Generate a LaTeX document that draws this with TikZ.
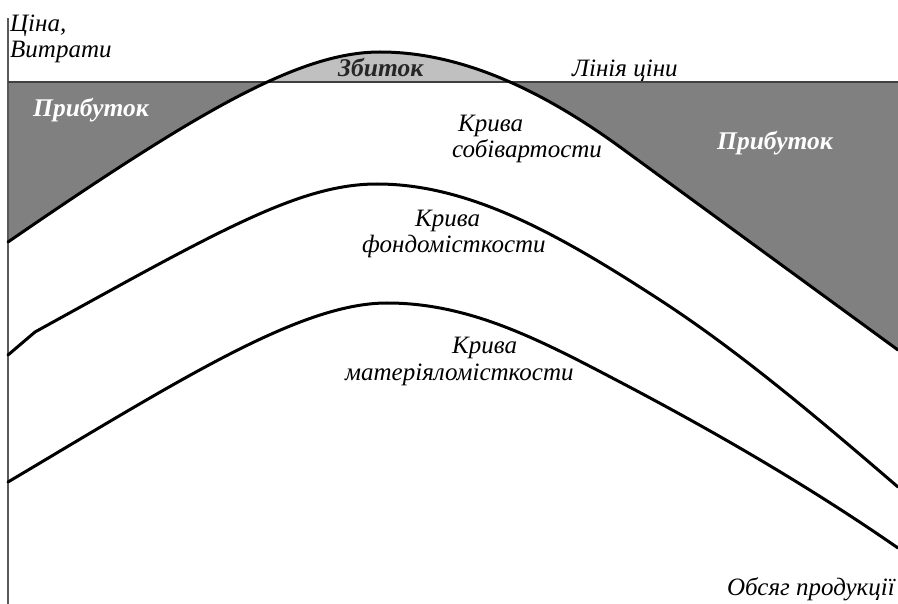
\documentclass[tikz,border=0pt]{standalone}
\usepackage{fontspec}
\setmainfont{Liberation Serif}
\begin{document}
\begin{tikzpicture}[x=1pt,y=-1pt,
  lbl/.style={font=\fontsize{25}{28}\selectfont\itshape, inner sep=0pt, anchor=base west, text=black},
  blbl/.style={font=\fontsize{25.5}{28}\selectfont\bfseries\itshape, inner sep=0pt, anchor=base west},
  curve/.style={line width=3pt, line join=round, line cap=round},
  axis/.style={draw=black!65, line width=2pt},
  priceline/.style={draw=black!75, line width=2pt}]
\useasboundingbox (0,0) rectangle (898,604);
\def\topcurve{(8,242) .. controls (200,110) and (300,52) .. (380,52) .. controls (460,52) and (540,89) .. (620,147) -- (898,350)}
\def\midcurve{(8,355) -- (35,332) .. controls (220,230) and (300,184) .. (377,184) .. controls (470,184) and (560,235) .. (660,300) .. controls (740,352) and (820,420) .. (898,487)}
\def\lowcurve{(8,482) .. controls (180,380) and (300,303) .. (387,303) .. controls (470,303) and (540,340) .. (620,382) .. controls (700,424) and (800,480) .. (898,548)}
% profit regions: below price line and above cost curve
\begin{scope}
  \clip \topcurve -- (898,0) -- (8,0) -- cycle;
  \fill[fill={rgb,255:red,128;green,128;blue,128}] (8,82) rectangle (898,604);
\end{scope}
% loss region: above price line and below cost curve
\begin{scope}
  \clip \topcurve -- (898,604) -- (8,604) -- cycle;
  \fill[fill={rgb,255:red,192;green,192;blue,192}] (8,0) rectangle (898,82);
\end{scope}
% axes and price line
\coordinate (yb) at (8,604);
\coordinate (yt) at (8,18);
\coordinate (pl) at (8,82);
\coordinate (pr) at (898,82);
\draw[axis] (yb) -- (yt);
\draw[priceline] (pl) -- (pr);
% curves
\draw[curve] \topcurve;
\draw[curve] \midcurve;
\draw[curve] \lowcurve;
% labels
\node[lbl] (cina) at (10,32) {Ціна,};
\node[lbl] (vytr) at (10,58) {Витрати};
\node[blbl, text=white] (prl) at (33,117) {Прибуток};
\node[blbl, text=white] (prr) at (717,150) {Прибуток};
\node[blbl, text=black!85] (zb) at (338,77) {Збиток};
\node[lbl] (lc) at (572,77) {Лінія ціни};
\node[lbl] (k1) at (458,132) {Крива};
\node[lbl] (k1b) at (452,158) {собівартости};
\node[lbl] (k2) at (415,227) {Крива};
\node[lbl] (k2b) at (362,253) {фондомісткости};
\node[lbl] (k3) at (452,354) {Крива};
\node[lbl] (k3b) at (345,381) {матеріяломісткости};
\node[lbl, anchor=base east] (ob) at (895,595) {Обсяг продукції};
\end{tikzpicture}
\end{document}
